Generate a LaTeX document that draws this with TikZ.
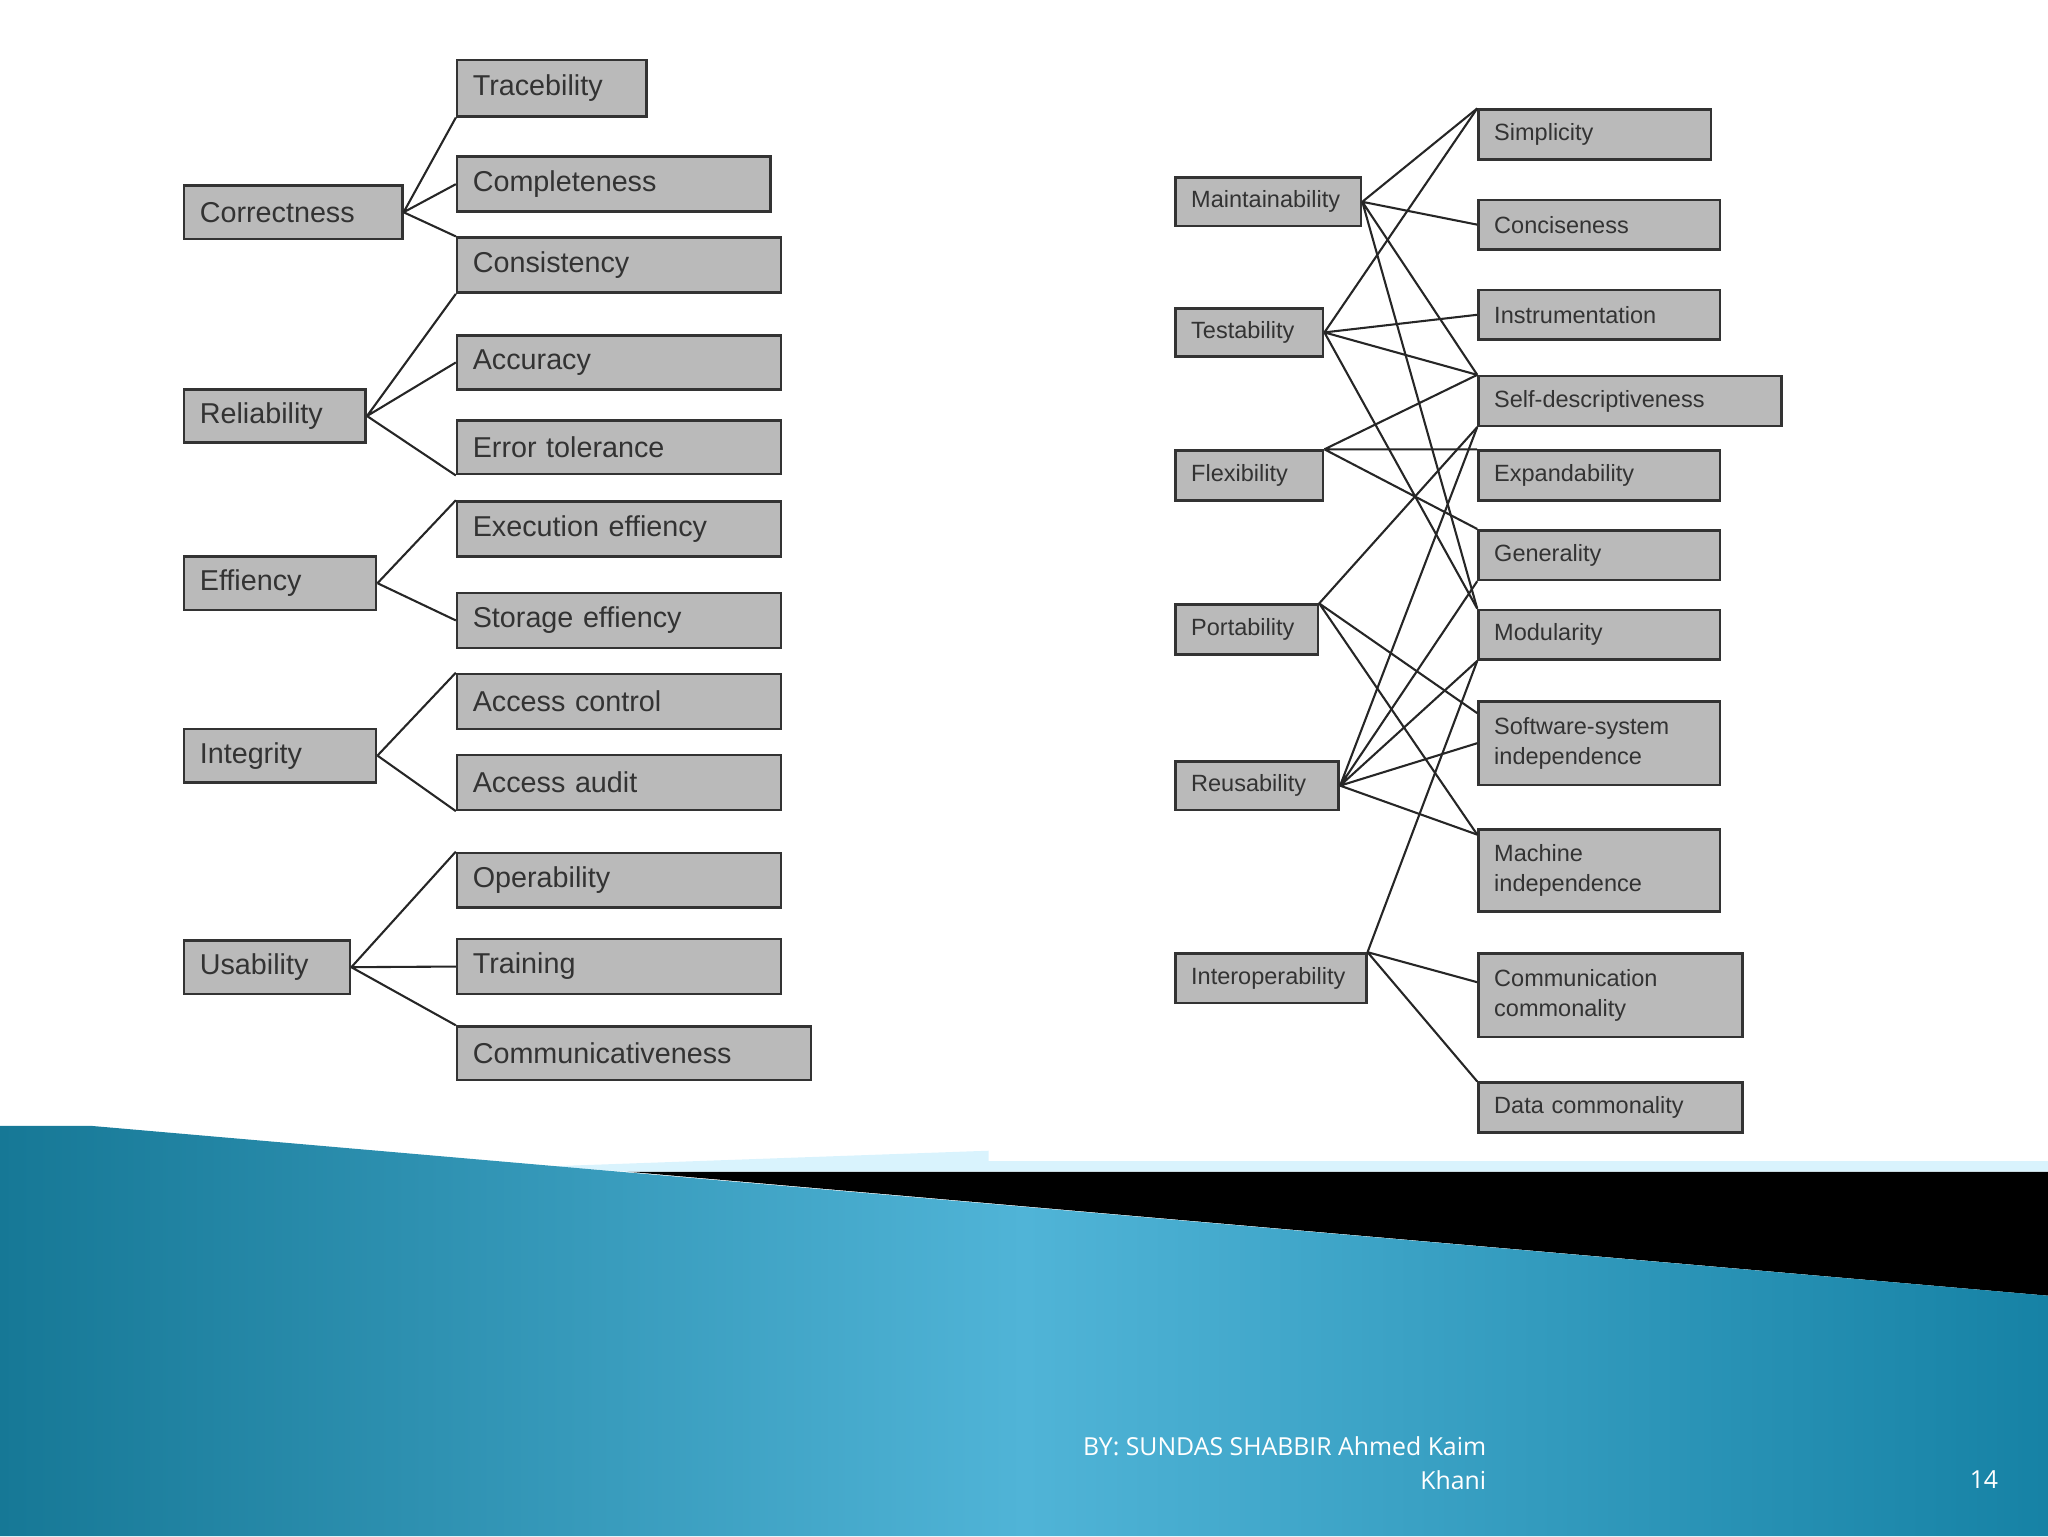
\documentclass[tikz,border=0pt]{standalone}
\usepackage{fontspec}
\setmainfont{Liberation Sans}
\newfontfamily\footfont{Open Sans}
\begin{document}
\begin{tikzpicture}[x=1pt,y=-1pt,
  box/.style={draw=black!80,fill=black!27,line width=2pt,inner xsep=12pt,align=left,anchor=north west,text=black!80},
  lk/.style={line width=1.6pt,black!85}]
\useasboundingbox (0,0) rectangle (1568,1176);
\newcommand\bx[7]{\pgfmathsetmacro\bw{#4-#2}\pgfmathsetmacro\bh{#5-#3}\pgfmathsetmacro\tw{\bw-24}%
  \node[box,minimum width=\bw pt,minimum height=\bh pt,text width=\tw pt,font=#7] (#1) at (#2,#3) {#6};}
\def\lf{\fontsize{22}{24}\selectfont}
\def\rf{\fontsize{18}{23}\selectfont}
% left tree
\bx{corr}{140}{141}{307}{182}{Correctness}{\lf}
\bx{trace}{349}{45}{494}{88}{Tracebility}{\lf}
\bx{comp}{349}{119}{589}{161}{Completeness}{\lf}
\bx{cons}{349}{181}{597}{223}{Consistency}{\lf}
\bx{rel}{140}{297}{279}{338}{Reliability}{\lf}
\bx{acc}{349}{256}{597}{297}{Accuracy}{\lf}
\bx{err}{349}{321}{597}{362}{Error tolerance}{\lf}
\bx{eff}{140}{425}{287}{466}{Effiency}{\lf}
\bx{exe}{349}{383}{597}{425}{Execution effiency}{\lf}
\bx{sto}{349}{453}{597}{495}{Storage effiency}{\lf}
\bx{integ}{140}{557}{287}{598}{Integrity}{\lf}
\bx{actl}{349}{515}{597}{557}{Access control}{\lf}
\bx{aud}{349}{577}{597}{619}{Access audit}{\lf}
\bx{usa}{140}{719}{267}{760}{Usability}{\lf}
\bx{ope}{349}{652}{597}{694}{Operability}{\lf}
\bx{tra}{349}{718}{597}{760}{Training}{\lf}
\bx{comm}{349}{785}{620}{826}{Communicativeness}{\lf}
\draw[lk] (corr.east)--(trace.south west) (corr.east)--(comp.west) (corr.east)--(cons.north west);
\draw[lk] (rel.east)--(cons.south west) (rel.east)--(acc.west) (rel.east)--(err.south west);
\draw[lk] (eff.east)--(exe.north west) (eff.east)--(sto.west);
\draw[lk] (integ.east)--(actl.north west) (integ.east)--(aud.south west);
\draw[lk] (usa.east)--(ope.north west) (usa.east)--(tra.west) (usa.east)--(comm.north west);
% right graph
\bx{mai}{899}{135}{1041}{172}{Maintainability}{\rf}
\bx{tes}{899}{235}{1012}{272}{Testability}{\rf}
\bx{fle}{899}{344}{1012}{382}{Flexibility}{\rf}
\bx{por}{899}{462}{1008}{500}{Portability}{\rf}
\bx{reu}{899}{582}{1024}{619}{Reusability}{\rf}
\bx{int}{899}{729}{1045}{767}{Interoperability}{\rf}
\bx{sim}{1131}{83}{1309}{121}{Simplicity}{\rf}
\bx{con}{1131}{152}{1316}{190}{Conciseness}{\rf}
\bx{ins}{1131}{221}{1316}{259}{Instrumentation}{\rf}
\bx{sel}{1131}{287}{1363}{325}{Self-descriptiveness}{\rf}
\bx{exp}{1131}{344}{1316}{382}{Expandability}{\rf}
\bx{gen}{1131}{405}{1316}{443}{Generality}{\rf}
\bx{mod}{1131}{466}{1316}{504}{Modularity}{\rf}
\bx{ssi}{1131}{536}{1316}{600}{Software-system\\independence}{\rf}
\bx{mac}{1131}{634}{1316}{697}{Machine\\independence}{\rf}
\bx{cc}{1131}{729}{1333}{793}{Communication\\commonality}{\rf}
\bx{dc}{1131}{828}{1333}{866}{Data commonality}{\rf}
\draw[lk] (mai.east)--(sim.north west) (mai.east)--(con.west) (mai.east)--(sel.north west) (mai.east)--(mod.north west);
\draw[lk] (tes.east)--(sim.north west) (tes.east)--(ins.west) (tes.east)--(sel.north west) (tes.east)--(mod.north west);
\draw[lk] (fle.north east)--(sel.north west) (fle.north east)--(exp.north west) (fle.north east)--(gen.north west);
\draw[lk] (por.north east)--(sel.south west) (por.north east)--([yshift=-10pt]ssi.north west) (por.north east)--([yshift=-5pt]mac.north west);
\draw[lk] (reu.east)--(sel.south west) (reu.east)--(gen.south west) (reu.east)--(mod.south west) (reu.east)--(ssi.west) (reu.east)--([yshift=-5pt]mac.north west);
\draw[lk] (int.north east)--(mod.south west) (int.north east)--([yshift=10pt]cc.west) (int.north east)--(dc.north west);
% footer band
\fill[black] (480,897)--(1568,897)--(1568,992)--cycle;
\fill[cyan!15!white] (420,893)--(757,881)--(757,889)--(1568,889)--(1568,897)--(480,897)--cycle;
\shade[left color={rgb,255:red,22;green,120;blue,150},right color={rgb,255:red,22;green,130;blue,165},middle color={rgb,255:red,80;green,180;blue,215}]
  (0,862)--(70,862)--(1568,992)--(1568,1176)--(0,1176)--cycle;
\node[text=white,font=\footfont\fontsize{19}{26}\selectfont,align=right,anchor=north east,inner sep=0] (ft) at (1138,1100) {BY: SUNDAS SHABBIR Ahmed Kaim\\Khani};
\node[text=white,font=\footfont\fontsize{19}{26}\selectfont,anchor=north east,inner sep=0] (pg) at (1530,1126) {14};
\end{tikzpicture}
\end{document}
